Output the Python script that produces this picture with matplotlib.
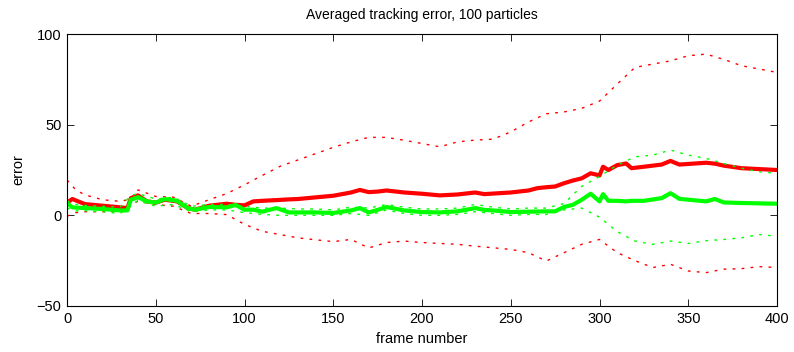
import numpy as np
import matplotlib
matplotlib.use("Agg")
import matplotlib.pyplot as plt

plt.rcParams['font.family'] = ['Liberation Sans', 'DejaVu Sans']

frames_mean = [0, 3, 10, 20, 30, 34, 36, 40, 45, 50, 55, 62, 68, 72, 80, 90, 95, 100,
               105, 110, 118, 125, 130, 140, 150, 160, 165, 170, 175, 180, 190, 200,
               210, 220, 230, 235, 240, 250, 260, 265, 270, 275, 280, 285, 290, 295,
               300, 302, 305, 310, 315, 318, 325, 335, 340, 345, 360, 365, 370, 380, 400]
red_mean = [7, 9, 6.2, 5.3, 4.4, 4, 9.5, 11, 7.7, 7, 8.6, 7.7, 4, 3.1, 5.3, 6.4, 5.8, 5.5,
            7.7, 8, 8.4, 8.8, 9, 9.9, 10.8, 12.6, 14, 12.8, 13.1, 13.7, 12.6, 11.9,
            11, 11.5, 12.6, 11.7, 12, 12.6, 13.7, 15, 15.5, 15.9, 17.7, 19.2, 20.4, 23.2,
            22, 26.8, 25, 27.7, 28.6, 26, 26.8, 28, 30, 28, 29, 28.5, 27.4, 26, 25]
green_mean = [6.7, 4.4, 4, 3.5, 2.7, 2.7, 8.6, 10, 7.7, 7, 9, 8, 4, 3.1, 4.6, 4.4, 5.7, 3.1,
              3.1, 2, 4, 1.6, 1.6, 1.6, 1.3, 2.7, 4, 1.6, 3, 4.6, 2.7, 1.8,
              1.6, 2.2, 4, 3, 2.7, 1.8, 2, 2.1, 2.2, 2.2, 4.6, 5.8, 8.6, 11.9,
              7.7, 11.7, 8, 8, 7.7, 8, 8, 9.5, 12.2, 9.1, 7.7, 9, 7.1, 6.8, 6.4]

frames_bound = [0, 5, 10, 20, 30, 36, 40, 50, 60, 70, 80, 90, 100, 110, 120, 130, 140,
                150, 160, 170, 180, 190, 200, 210, 220, 230, 240, 250, 260, 270, 280,
                290, 300, 310, 320, 330, 340, 350, 360, 370, 380, 390, 400]
red_upper = [19.5, 14, 11.3, 8.6, 7.7, 9, 14, 10.4, 10, 5, 8.6, 12, 16.8, 22, 27, 30.5, 34,
             37.5, 40.5, 43, 43, 41.4, 39.6, 37.8, 40.5, 41.5, 42, 46, 51.5, 56, 57,
             59, 63, 72.4, 81.6, 83.4, 85.2, 88, 88.9, 86, 82.5, 80.7, 78.8]
red_lower = [-0.5, 1.5, 2, 2, 2, 5, 8, 6, 5, 1, 1, 0.4, -5, -8.8, -10.6, -12.4, -13.5,
             -14.5, -13.3, -18, -15, -14.2, -15, -15.5, -16, -17, -17.9, -18.8, -20.6, -25.2, -20.6,
             -16, -13.3, -20.6, -25, -28.8, -27, -30.7, -31.6, -29.7, -29.4, -28.3, -28.8]
green_upper = [8, 6, 5.5, 5, 4.5, 11, 12, 9, 10, 5, 6, 6, 5, 4, 4, 3.5, 3.5,
               3, 4.5, 4, 6, 4.5, 3.5, 3.5, 4, 6, 4.5, 3.5, 4, 4, 6.5,
               16, 21.4, 27.7, 32.3, 33.2, 36, 33.2, 31.4, 28.6, 26, 24, 23.2]
green_lower = [4, 2.5, 2.5, 2, 1, 6, 8, 5, 6, 2, 3, 3, 1.5, 0.5, 0, 0, 0,
               0, 1, 0, 3, 1, 0, 0, 0.5, 2, 1, 0, 0.5, 0.5, 3,
               4, -1, -9, -14.2, -16, -14.2, -15.5, -14, -13.3, -12.4, -10.6, -11.5]

fig = plt.figure(figsize=(7.94, 3.52), dpi=100)
ax = fig.add_axes([0.0844, 0.1307, 0.8942, 0.7727])

dots = (0, (2, 4.5))
ax.plot(frames_bound, red_upper, color=(1, 0, 0), lw=1.0, linestyle=dots)
ax.plot(frames_bound, red_lower, color=(1, 0, 0), lw=1.0, linestyle=dots)
ax.plot(frames_mean, red_mean, color=(1, 0, 0), lw=3)
ax.plot(frames_bound, green_upper, color=(0, 1, 0), lw=1.0, linestyle=dots)
ax.plot(frames_bound, green_lower, color=(0, 1, 0), lw=1.0, linestyle=dots)
ax.plot(frames_mean, green_mean, color=(0, 1, 0), lw=3)

ax.set_xlim(0, 400)
ax.set_ylim(-50, 100)
ax.set_xticks(np.arange(0, 401, 50))
ax.set_yticks([-50, 0, 50, 100])
ax.tick_params(direction='in', top=True, right=True, length=5, labelsize=10.5,
               width=0.6, pad=4)
for s in ax.spines.values():
    s.set_linewidth(0.8)

ax.set_xlabel("frame number", fontsize=10.5, labelpad=5)
ax.set_ylabel("error", fontsize=10.5, labelpad=8)
ax.set_title("Averaged tracking error, 100 particles", fontsize=10, pad=11)

fig.savefig("out.png", dpi=100)
